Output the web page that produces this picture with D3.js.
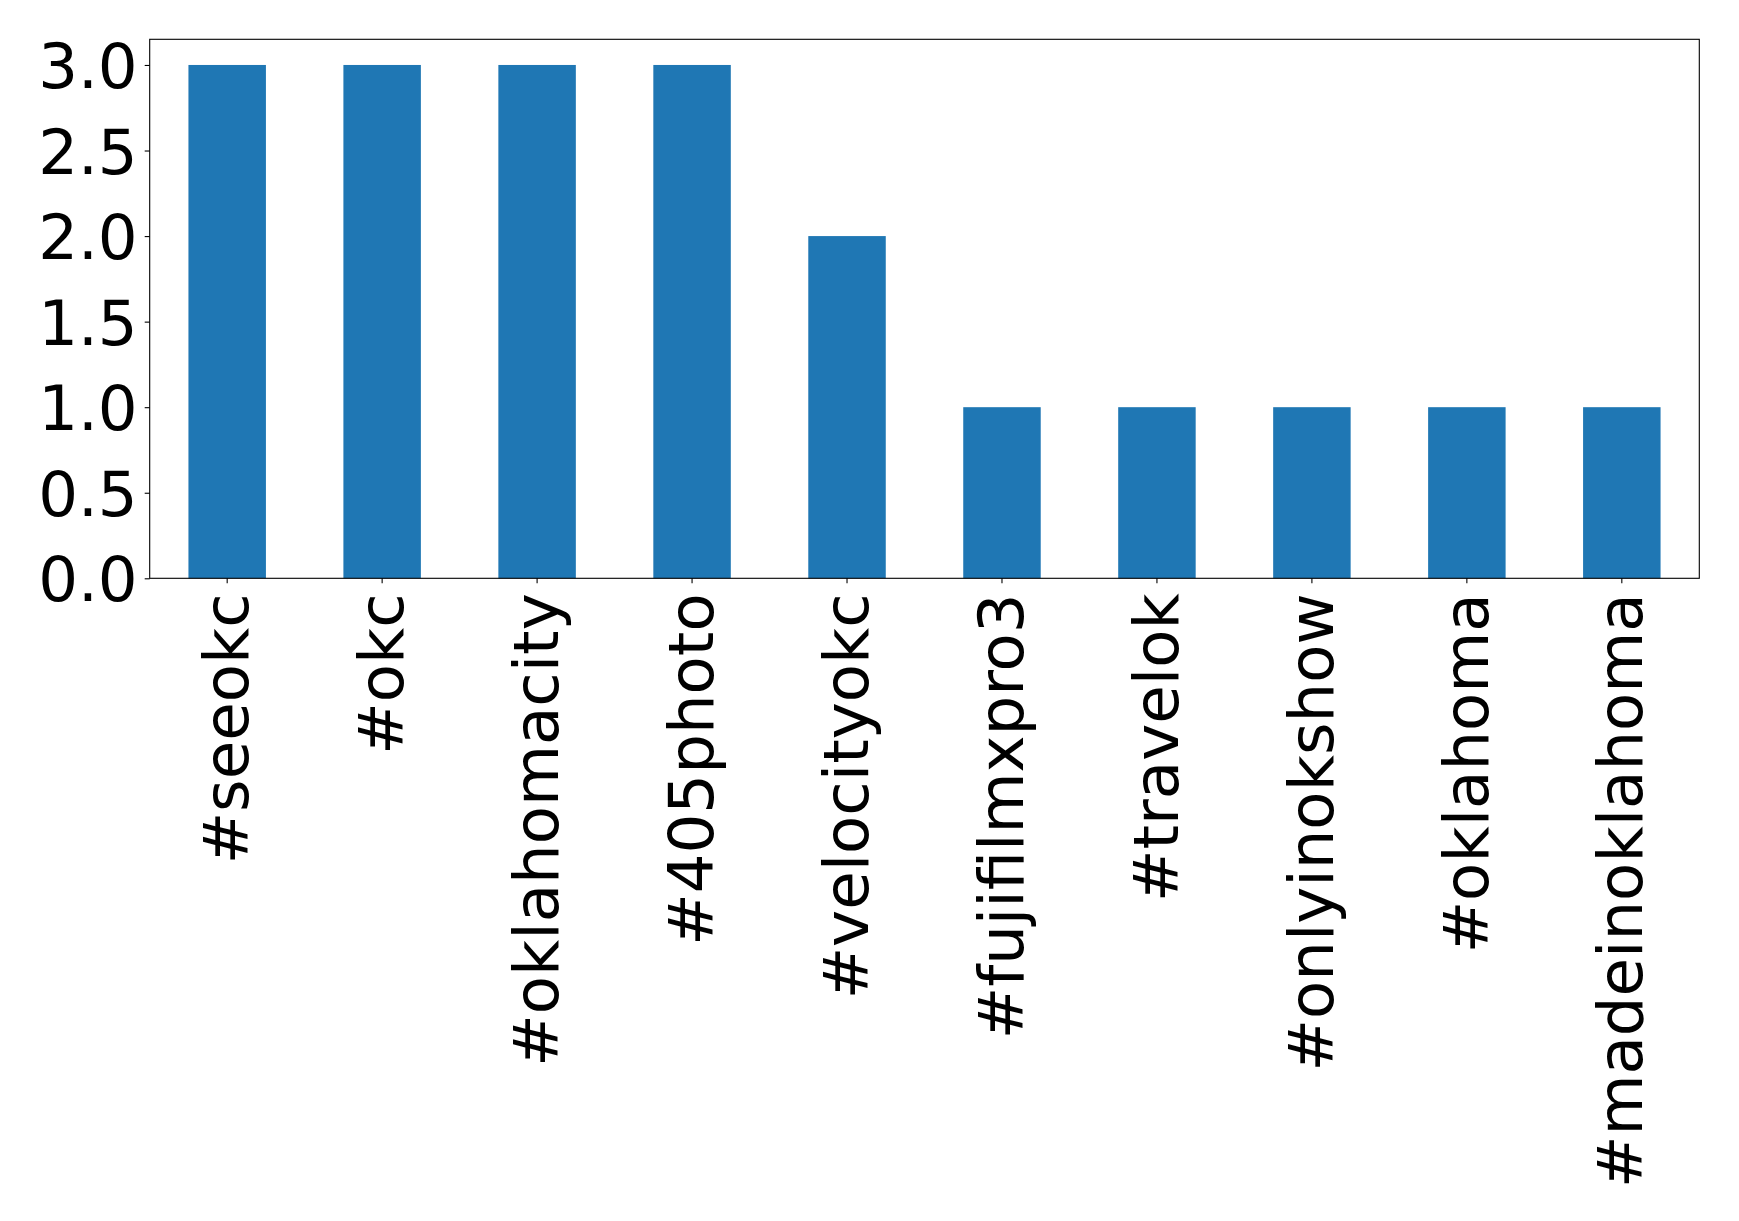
<!DOCTYPE html>
<html><head><meta charset="utf-8">
<script src="https://cdn.jsdelivr.net/npm/d3@7"></script>
<style>body{margin:0;background:#fff}svg{display:block}</style>
</head><body>
<script>
const categories = ["#seeokc","#okc","#oklahomacity","#405photo","#velocityokc","#fujifilmxpro3","#travelok","#onlyinokshow","#oklahoma","#madeinoklahoma"];
const values = [3,3,3,3,2,1,1,1,1,1];
const yTicks = [0,0.5,1.0,1.5,2.0,2.5,3.0];

const W = 1739, H = 1221;
const m = {left:149.7, right:1699.3, top:39.3, bottom:578.3};
const fs = 62.6;
const svg = d3.select("body").append("svg").attr("width",W).attr("height",H);

const x = d3.scaleBand().domain(categories).range([m.left,m.right]).paddingInner(0.5).paddingOuter(0.25);
const y = d3.scaleLinear().domain([0,3.15]).range([m.bottom,m.top]);

svg.selectAll("rect.bar").data(values).enter().append("rect")
  .attr("class","bar")
  .attr("x",(d,i)=>x(categories[i]))
  .attr("width",x.bandwidth())
  .attr("y",d=>y(d))
  .attr("height",d=>y(0)-y(d))
  .attr("fill","#1f77b4");

// y axis
const ya = svg.append("g").attr("transform",`translate(${m.left},0)`)
  .call(d3.axisLeft(y).tickValues(yTicks).tickFormat(d3.format(".1f")).tickSize(5).tickPadding(7));
ya.select(".domain").remove();
ya.selectAll("text").attr("font-family","DejaVu Sans").attr("font-size",fs).attr("fill","#000").attr("dy","0.36em");
ya.selectAll("line").attr("stroke","#000").attr("stroke-width",1.1);

// x axis
const xa = svg.append("g").attr("transform",`translate(0,${m.bottom})`)
  .call(d3.axisBottom(x).tickSize(5).tickPadding(0));
xa.select(".domain").remove();
xa.selectAll("line").attr("stroke","#000").attr("stroke-width",1.1);
xa.selectAll("text")
  .attr("font-family","DejaVu Sans").attr("font-size",fs).attr("fill","#000")
  .attr("text-anchor","end")
  .attr("transform","translate(0,15) rotate(-90)")
  .attr("x",0).attr("y",0).attr("dy","0.33em");

// frame
svg.append("rect").attr("x",m.left).attr("y",m.top)
  .attr("width",m.right-m.left).attr("height",m.bottom-m.top)
  .attr("fill","none").attr("stroke","#000").attr("stroke-width",1.1);
</script>
</body></html>
